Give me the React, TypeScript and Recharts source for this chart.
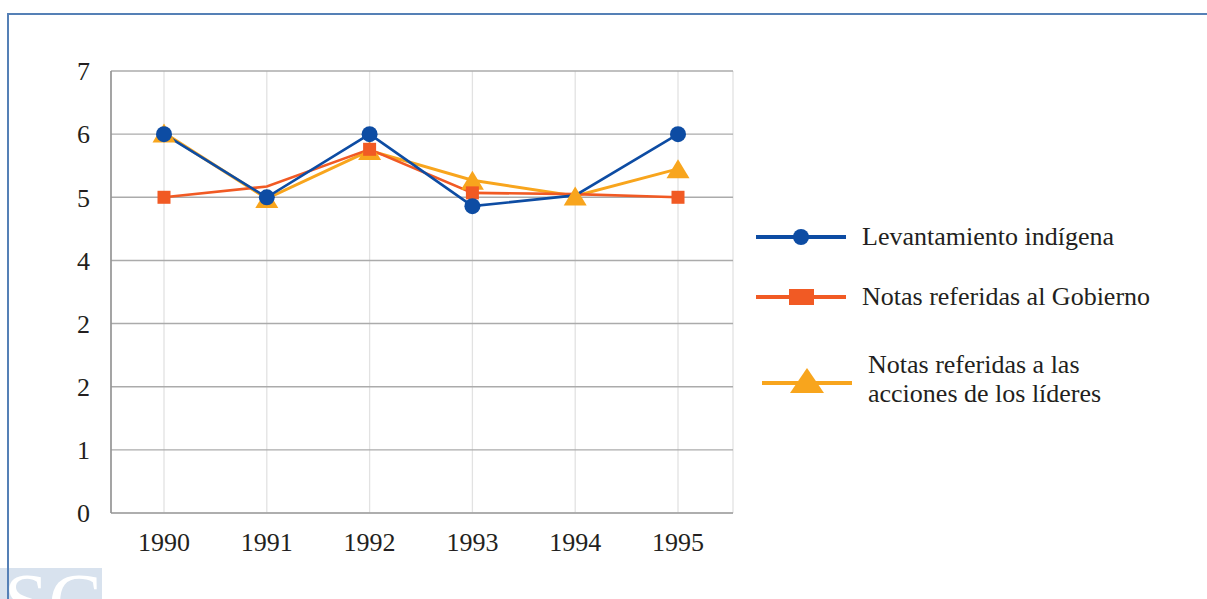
import React from 'react';
import { LineChart, Line, XAxis, YAxis, CartesianGrid, Legend } from 'recharts';

const years = ['1990', '1991', '1992', '1993', '1994', '1995'];
const levantamiento = [6, 5, 6, 4.86, 5.03, 6];
const levantamientoMarker = [true, true, true, true, false, true];
const gobierno = [5, 5.17, 5.76, 5.07, 5.05, 5.0];
const gobiernoMarker = [true, false, true, true, false, true];
const lideres = [6.02, 4.98, 5.74, 5.27, 5.02, 5.45];
const yTicks = [0, 1, 2, 3, 4, 5, 6, 7];
const yTickLabels = ['0', '1', '2', '2', '4', '5', '6', '7'];
const seriesNames = [
  'Levantamiento indígena',
  'Notas referidas al Gobierno',
  'Notas referidas a las acciones de los líderes',
];

const BLUE = '#0D4CA3';
const ORANGE = '#F15A24';
const YELLOW = '#F8A51D';
const TEXT = '#231F20';
const FONT = '"Liberation Serif", "Times New Roman", serif';

const data = years.map((y, i) => ({
  year: y,
  levantamiento: levantamiento[i],
  gobierno: gobierno[i],
  lideres: lideres[i],
}));

const CircleDot = (props: any) => {
  const { cx, cy, index } = props;
  if (cx == null || cy == null || !levantamientoMarker[index]) return <g key={`c-${index}`} />;
  return <circle key={`c-${index}`} cx={cx} cy={cy} r={8} fill={BLUE} />;
};

const SquareDot = (props: any) => {
  const { cx, cy, index } = props;
  if (cx == null || cy == null || !gobiernoMarker[index]) return <g key={`s-${index}`} />;
  return <rect key={`s-${index}`} x={cx - 6.5} y={cy - 6.5} width={13} height={13} fill={ORANGE} />;
};

const TriangleDot = (props: any) => {
  const { cx, cy, index } = props;
  if (cx == null || cy == null) return <g key={`t-${index}`} />;
  const w = 23;
  const h = 19;
  const pts = `${cx},${cy - h / 2} ${cx + w / 2},${cy + h / 2} ${cx - w / 2},${cy + h / 2}`;
  return <polygon key={`t-${index}`} points={pts} fill={YELLOW} />;
};

const LegendIcon = ({ kind }: { kind: number }) => {
  if (kind === 0) {
    return (
      <svg width={92} height={20} style={{ display: 'block' }}>
        <line x1={0} y1={10} x2={90} y2={10} stroke={BLUE} strokeWidth={4} />
        <circle cx={45} cy={10} r={8} fill={BLUE} />
      </svg>
    );
  }
  if (kind === 1) {
    return (
      <svg width={92} height={20} style={{ display: 'block' }}>
        <line x1={0} y1={10} x2={90} y2={10} stroke={ORANGE} strokeWidth={4} />
        <rect x={33} y={2} width={25} height={16} fill={ORANGE} />
      </svg>
    );
  }
  return (
    <svg width={92} height={28} style={{ display: 'block' }}>
      <line x1={0} y1={18} x2={90} y2={18} stroke={YELLOW} strokeWidth={4} />
      <polygon points="45,3 62,28 28,28" fill={YELLOW} />
    </svg>
  );
};

const CustomLegend = () => (
  <div style={{ fontFamily: FONT, fontSize: 26, color: TEXT }}>
    {seriesNames.map((name, i) => (
      <div
        key={name}
        style={{
          display: 'flex',
          alignItems: 'center',
          marginBottom: i === 0 ? 31 : 39,
          marginLeft: i === 2 ? 6 : 0,
        }}
      >
        <div style={{ width: 92, flex: 'none' }}>
          <LegendIcon kind={i} />
        </div>
        <div style={{ marginLeft: 14, width: i === 2 ? 260 : 330, lineHeight: '29px' }}>{name}</div>
      </div>
    ))}
  </div>
);

export default function App() {
  return (
    <div
      style={{
        position: 'fixed',
        left: 0,
        top: 0,
        width: 1207,
        height: 599,
        overflow: 'hidden',
        background: '#fff',
      }}
    >
      <div
        style={{
          position: 'absolute',
          left: 0,
          top: 568,
          width: 102,
          height: 40,
          background: '#D8E2EE',
          overflow: 'hidden',
        }}
      >
        <div
          style={{
            position: 'absolute',
            left: 4,
            top: 4,
            fontFamily: FONT,
            fontSize: 80,
            lineHeight: '60px',
            color: '#fff',
          }}
        >
          SC
        </div>
      </div>
      <div
        style={{
          position: 'absolute',
          left: 7,
          top: 13,
          width: 1400,
          height: 800,
          borderTop: '2px solid #5580B6',
          borderLeft: '2px solid #5580B6',
        }}
      />
      <div style={{ position: 'absolute', left: 0, top: 0 }}>
        <LineChart
          width={1207}
          height={599}
          data={data}
          margin={{ top: 71, right: 474, bottom: 46, left: 51 }}
        >
          <CartesianGrid vertical={true} horizontal={false} stroke="#E2E2E2" strokeWidth={1.3} />
          <CartesianGrid vertical={false} horizontal={true} stroke="#ABABAB" strokeWidth={1.4} />
          <XAxis
            dataKey="year"
            interval={0}
            padding={{ left: 53, right: 55 }}
            tickLine={false}
            tickMargin={14}
            height={40}
            axisLine={{ stroke: '#A8A8A8', strokeWidth: 1.6 }}
            tick={{ fill: TEXT, fontSize: 26, fontFamily: FONT }}
          />
          <YAxis
            domain={[0, 7]}
            ticks={yTicks}
            interval={0}
            width={60}
            tickLine={false}
            tickMargin={15}
            tickFormatter={(v: number) => yTickLabels[yTicks.indexOf(v)]}
            axisLine={{ stroke: '#939393', strokeWidth: 1.6 }}
            tick={{ fill: TEXT, fontSize: 26, fontFamily: FONT }}
          />
          <YAxis
            yAxisId="r"
            orientation="right"
            domain={[0, 7]}
            width={0}
            tick={false}
            tickLine={false}
            axisLine={{ stroke: '#A8A8A8', strokeWidth: 1.6 }}
          />
          <Line
            dataKey="lideres"
            name={seriesNames[2]}
            stroke={YELLOW}
            strokeWidth={3}
            dot={TriangleDot}
            activeDot={false}
            isAnimationActive={false}
          />
          <Line
            dataKey="gobierno"
            name={seriesNames[1]}
            stroke={ORANGE}
            strokeWidth={2.6}
            dot={SquareDot}
            activeDot={false}
            isAnimationActive={false}
          />
          <Line
            dataKey="levantamiento"
            name={seriesNames[0]}
            stroke={BLUE}
            strokeWidth={2.6}
            dot={CircleDot}
            activeDot={false}
            isAnimationActive={false}
          />
          <Legend
            layout="vertical"
            align="center"
            verticalAlign="middle"
            content={<CustomLegend />}
            wrapperStyle={{ position: 'absolute', left: 756, top: 222, width: 450, height: 'auto' }}
          />
        </LineChart>
      </div>
    </div>
  );
}
